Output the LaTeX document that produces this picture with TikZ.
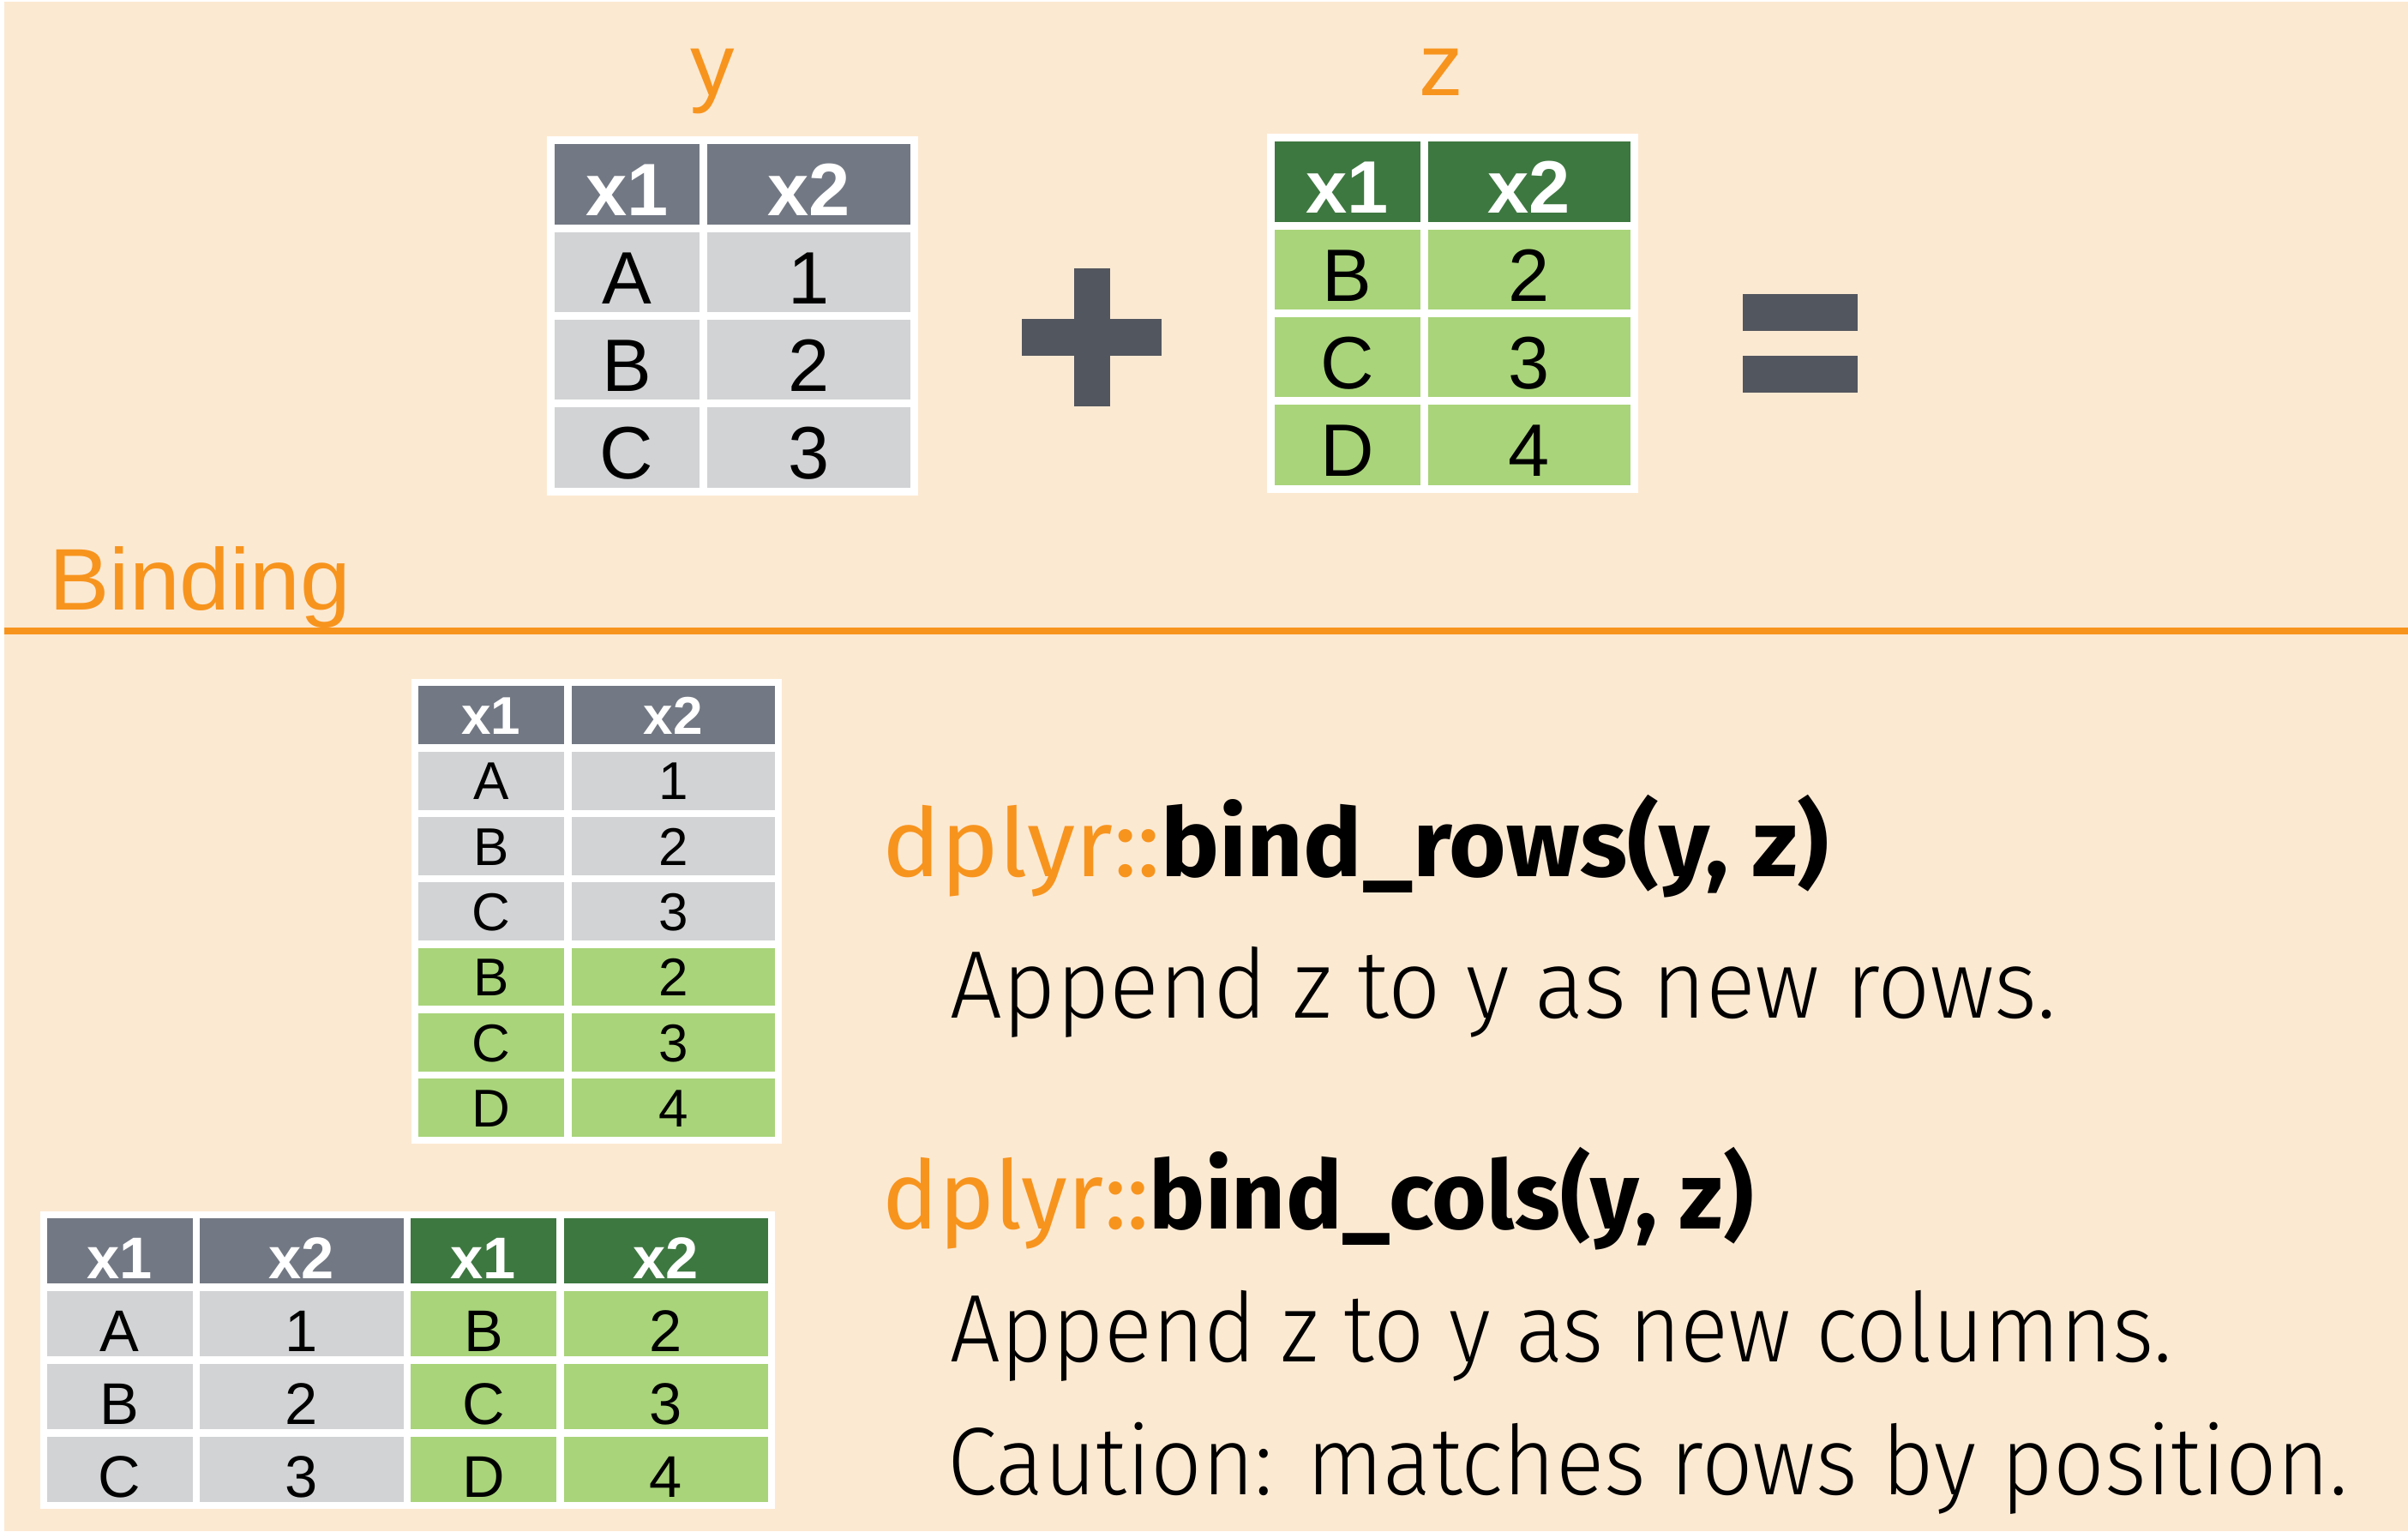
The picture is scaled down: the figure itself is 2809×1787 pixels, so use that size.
\documentclass[tikz,border=0pt]{standalone}
\usepackage{fontspec}
\usepackage{graphicx}
\setmainfont{Liberation Sans}
\newfontfamily\arial{Liberation Sans}
\IfFontExistsTF{Fira Sans Light}{\newfontfamily\lightsans{Fira Sans Light}}{\newfontfamily\lightsans{Fira Sans}}
\newfontfamily\codesans{Fira Sans}
\definecolor{peach}{RGB}{252,233,210}
\definecolor{accent}{RGB}{247,148,30}
\definecolor{hdrgray}{RGB}{115,121,132}
\definecolor{cellgray}{RGB}{209,211,212}
\definecolor{hdrgreen}{RGB}{61,120,64}
\definecolor{cellgreen}{RGB}{169,212,122}
\definecolor{opgray}{RGB}{82,86,94}
\tikzset{
  tcell/.style={inner sep=0pt, outer sep=0pt, anchor=north west, align=center},
  bigcell/.style={tcell, text height=83.5pt, text depth=9.8pt, font=\arial\fontsize{86.6}{90}\selectfont},
  rowcell/.style={tcell, text height=56.2pt, text depth=11.6pt, font=\arial\fontsize{62}{66}\selectfont},
  colcell/.style={tcell, text height=70.5pt, text depth=6pt, font=\arial\fontsize{68.6}{72}\selectfont},
  tframe/.style={fill=white, inner sep=0pt, outer sep=0pt, anchor=north west},
  oplabel/.style={inner sep=0pt, anchor=base, text=accent, font=\arial\fontsize{103}{110}\selectfont},
  codeline/.style={inner sep=0pt, anchor=base west},
}
\begin{document}
\begin{tikzpicture}[x=1pt,y=-1pt]
\useasboundingbox (0,0) rectangle (2809,1787);
\fill[white] (0,0) rectangle (2809,1787);
\fill[peach] (5,2) rectangle (2809,1786);

% labels
\node[oplabel] (ylab) at (831.6,112) {y};
\node[oplabel] (zlab) at (1681,112) {z};

% table y
\node[tframe, minimum width=433pt, minimum height=418.2pt] (ybox) at (637.5,159.5) {};
\foreach \nm/\fc/\tc/\a/\b [count=\i from 0] in {h/hdrgray/white/\textbf{x1}/\textbf{x2}, 1/cellgray/black/A/1, 2/cellgray/black/B/2, 3/cellgray/black/C/3}{
  \node[bigcell, minimum width=169.5pt, fill=\fc, text=\tc] (y\nm a) at (646.5,168.5+\i*102.3) {\a};
  \node[bigcell, minimum width=236.5pt, fill=\fc, text=\tc] (y\nm b) at (825,168.5+\i*102.3) {\b};
}

% plus
\fill[opgray] (1192.3,372) rectangle (1354.6,414.9);
\fill[opgray] (1252.6,312.9) rectangle (1295.4,474.1);

% table z
\node[tframe, minimum width=433pt, minimum height=418.2pt] (zbox) at (1478,156.5) {};
\foreach \nm/\fc/\tc/\a/\b [count=\i from 0] in {h/hdrgreen/white/\textbf{x1}/\textbf{x2}, 1/cellgreen/black/B/2, 2/cellgreen/black/C/3, 3/cellgreen/black/D/4}{
  \node[bigcell, minimum width=169.5pt, fill=\fc, text=\tc] (z\nm a) at (1487,165.5+\i*102.3) {\a};
  \node[bigcell, minimum width=236.5pt, fill=\fc, text=\tc] (z\nm b) at (1665.5,165.5+\i*102.3) {\b};
}

% equals
\fill[opgray] (2032.7,343.3) rectangle (2166.7,386.3);
\fill[opgray] (2032.7,414.7) rectangle (2166.7,457.7);

% Binding heading and rule
\node[inner sep=0pt, anchor=base west, text=accent] (binding) at (57,711.8) {\resizebox{352pt}{\height}{\arial\fontsize{102}{110}\selectfont Binding}};
\draw[accent, line width=8.5pt] (5,735.8) -- (2809,735.8);

% bind_rows result
\node[tframe, minimum width=432pt, minimum height=541.6pt] (rbox) at (480,792.4) {};
\foreach \nm/\fc/\tc/\a/\b [count=\i from 0] in {h/hdrgray/white/\textbf{x1}/\textbf{x2}, 1/cellgray/black/A/1, 2/cellgray/black/B/2, 3/cellgray/black/C/3, 4/cellgreen/black/B/2, 5/cellgreen/black/C/3, 6/cellgreen/black/D/4}{
  \node[rowcell, minimum width=170pt, fill=\fc, text=\tc] (r\nm a) at (488,800.4+\i*76.3) {\a};
  \node[rowcell, minimum width=237.5pt, fill=\fc, text=\tc] (r\nm b) at (666.5,800.4+\i*76.3) {\b};
}

% bind_cols result
\node[tframe, minimum width=857pt, minimum height=347.5pt] (cbox) at (46.5,1412.5) {};
\foreach \nm/\fa/\fb/\tc/\a/\b/\c/\d [count=\i from 0] in {h/hdrgray/hdrgreen/white/\textbf{x1}/\textbf{x2}/\textbf{x1}/\textbf{x2}, 1/cellgray/cellgreen/black/A/1/B/2, 2/cellgray/cellgreen/black/B/2/C/3, 3/cellgray/cellgreen/black/C/3/D/4}{
  \node[colcell, minimum width=170pt, fill=\fa, text=\tc] (c\nm a) at (54.5,1420.5+\i*85) {\a};
  \node[colcell, minimum width=237.5pt, fill=\fa, text=\tc] (c\nm b) at (233,1420.5+\i*85) {\b};
  \node[colcell, minimum width=170pt, fill=\fb, text=\tc] (c\nm c) at (479,1420.5+\i*85) {\c};
  \node[colcell, minimum width=238pt, fill=\fb, text=\tc] (c\nm d) at (657.5,1420.5+\i*85) {\d};
}

% descriptions
\node[codeline] (fn1) at (1029.5,1022) {\resizebox{1104pt}{\height}{\codesans\fontsize{111}{120}\selectfont\textcolor{accent}{dplyr::}\textbf{bind\_rows(y, z)}}};
\node[codeline] (d1) at (1108.5,1187) {\resizebox{1290pt}{\height}{\lightsans\fontsize{112}{120}\selectfont Append z to y as new rows.}};
\node[codeline] (fn2) at (1029.5,1433.5) {\resizebox{1016pt}{\height}{\codesans\fontsize{111}{120}\selectfont\textcolor{accent}{dplyr::}\textbf{bind\_cols(y, z)}}};
\node[codeline] (d2) at (1108.5,1588.5) {\resizebox{1425pt}{\height}{\lightsans\fontsize{112}{120}\selectfont Append z to y as new columns.}};
\node[codeline] (d3) at (1105,1743.5) {\resizebox{1634pt}{\height}{\lightsans\fontsize{112}{120}\selectfont Caution: matches rows by position.}};
\end{tikzpicture}
\end{document}
